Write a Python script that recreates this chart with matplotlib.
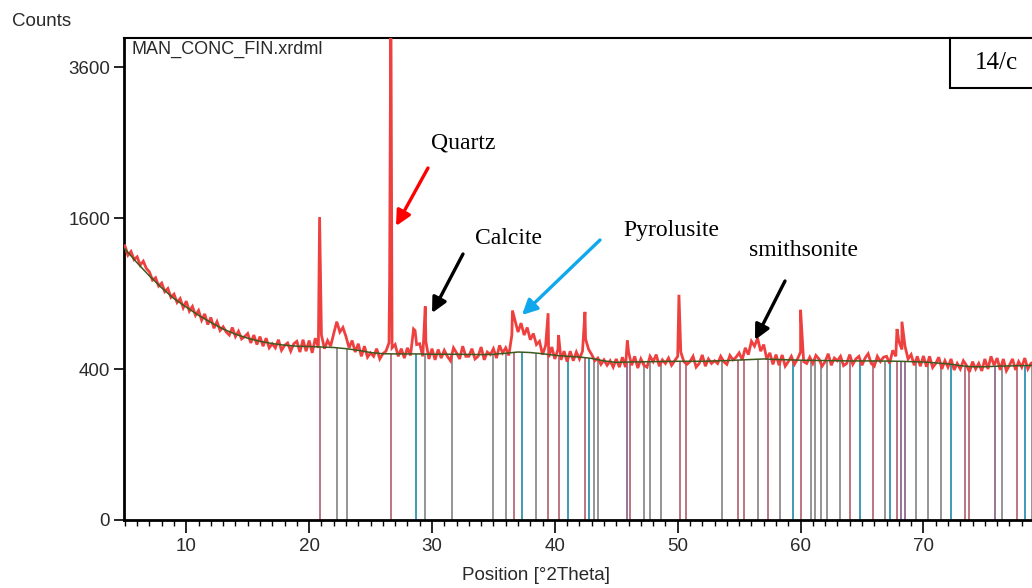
import numpy as np
import matplotlib
matplotlib.use("Agg")
import matplotlib.pyplot as plt
from matplotlib.patches import Rectangle

# ---------------- data ----------------
two_theta_start = 5.0
two_theta_step = 0.25
observed_counts = [
    1320, 1230, 1265, 1190, 1215, 1140, 1175, 1110,
    1080, 1010, 1030, 960, 985, 915, 940, 870,
    895, 830, 860, 790, 840, 765, 800, 735,
    770, 700, 745, 670, 720, 645, 690, 630,
    655, 620, 600, 650, 590, 625, 575, 590,
    610, 550, 600, 540, 590, 530, 580, 520,
    545, 520, 570, 505, 535, 550, 500, 545,
    560, 495, 570, 500, 565, 490, 580, 520,
    600, 515, 565, 530, 610, 690, 620, 650,
    590, 520, 565, 495, 545, 470, 530, 465,
    490, 470, 515, 455, 485, 500, 550, 520,
    540, 470, 515, 460, 520, 475, 640, 540,
    545, 470, 560, 455, 515, 450, 510, 460,
    505, 470, 445, 520, 490, 455, 530, 470,
    470, 515, 455, 470, 525, 450, 495, 480,
    515, 460, 535, 490, 520, 475, 600, 700,
    620, 680, 600, 650, 570, 610, 540, 560,
    480, 535, 465, 525, 455, 510, 450, 500,
    440, 500, 445, 495, 455, 500, 575, 510,
    480, 445, 460, 425, 450, 420, 445, 410,
    455, 410, 465, 410, 495, 420, 470, 405,
    455, 420, 410, 470, 440, 480, 415, 450,
    430, 460, 420, 445, 470, 495, 440, 425,
    440, 470, 410, 430, 478, 415, 455, 430,
    445, 430, 470, 440, 425, 475, 450, 465,
    490, 450, 520, 480, 560, 530, 580, 500,
    540, 455, 490, 425, 480, 420, 478, 415,
    440, 470, 425, 455, 495, 440, 430, 465,
    430, 475, 455, 415, 440, 485, 420, 460,
    445, 470, 418, 430, 480, 425, 455, 470,
    420, 460, 485, 430, 415, 470, 440, 465,
    470, 430, 505, 470, 560, 510, 530, 455,
    480, 420, 470, 415, 472, 412, 470, 408,
    430, 465, 400, 445, 410, 455, 395, 430,
    400, 445, 420, 385, 440, 400, 430, 390,
    455, 400, 470, 420, 460, 395, 455, 390,
    420, 455, 395, 440, 410, 460, 400, 430,
    440,
]

# sharp reflections of the observed scan
peak_positions = [20.85, 26.55, 26.65, 28.62, 29.45, 36.55, 39.45, 40.30,
                  42.45, 45.90, 50.10, 60.00, 67.85, 68.25]
peak_heights = [1610, 1010, 5000, 630, 800, 770, 750, 600,
                760, 565, 890, 775, 640, 690]

# fitted background
background_x = [5, 6, 7, 8, 9, 10, 11, 12, 13, 14, 15, 16, 17, 18, 19, 20, 21,
                22, 23, 24, 25, 26, 27, 28, 29, 30, 32, 34, 35, 36, 37, 38, 39,
                40, 41, 42, 43, 44, 45, 46, 48, 50, 52, 54, 56, 57, 58, 60, 62,
                64, 66, 68, 70, 72, 73, 74, 75, 76, 78, 79]
background_y = [1290, 1160, 1045, 945, 860, 795, 735, 685, 640, 606, 580, 560,
                546, 536, 530, 528, 525, 522, 515, 505, 492, 485, 484, 484,
                484, 482, 482, 480, 482, 488, 495, 492, 485, 476, 470, 466,
                458, 444, 436, 438, 440, 442, 442, 446, 452, 455, 452, 448,
                446, 444, 444, 442, 438, 428, 418, 412, 412, 415, 418, 420]

# reference pattern sticks (phase positions)
quartz_sticks = [20.85, 26.68, 36.68, 39.45, 40.35, 42.47, 46.08, 50.18, 50.67,
                 54.93, 55.37, 57.33, 60.05, 64.03, 65.89, 67.85, 73.37, 73.70,
                 77.60]
calcite_sticks = [22.24, 23.09, 29.47, 31.60, 35.00, 36.06, 38.45, 43.15, 43.48,
                  47.27, 47.76, 48.63, 53.58, 56.51, 58.33, 60.81, 61.19, 61.63,
                  62.17, 63.18, 66.90, 69.37, 70.38, 71.41, 76.37, 78.80]
pyrolusite_sticks = [28.66, 37.36, 41.03, 42.80, 59.37, 64.80, 67.25, 72.28, 78.28]
smithsonite_sticks = [45.86, 68.20, 68.47, 75.82]

x_major_ticks = [10, 20, 30, 40, 50, 60, 70]
y_ticks = [0, 400, 1600, 3600]

# ---------------- figure ----------------
W, H = 1032, 588
fig = plt.figure(figsize=(W / 100, H / 100), dpi=100)
fig.patch.set_facecolor("white")

def fx(px):
    return px / W

def fy(py):
    return 1 - py / H

ax = fig.add_axes([fx(124), fy(520), fx(1034) - fx(124), fy(38) - fy(520)])

fwd = lambda v: np.sqrt(np.maximum(v, 0))
inv = lambda v: np.square(v)
ax.set_yscale("function", functions=(fwd, inv))

# observed scan merged with sharp peaks
obs_x = two_theta_start + two_theta_step * np.arange(len(observed_counts))
all_x = np.concatenate([obs_x, peak_positions])
all_y = np.concatenate([observed_counts, peak_heights])
order = np.argsort(all_x, kind="stable")
all_x, all_y = all_x[order], all_y[order]

# sticks from 0 up to background level
bgx = np.array(background_x, float)
bgy = np.array(background_y, float)
stick_groups = [
    (calcite_sticks, "#8c8c8c"),
    (quartz_sticks, "#b86a78"),
    (smithsonite_sticks, "#8e6a8e"),
    (pyrolusite_sticks, "#2e94b0"),
]
for pos, col in stick_groups:
    pos = np.array(pos)
    ax.vlines(pos, 0, np.interp(pos, bgx, bgy), colors=col, lw=1.3, zorder=2)

ax.plot(all_x, all_y, color="#ef4040", lw=2.0, zorder=3, solid_joinstyle="miter")
ax.plot(background_x, background_y, color="#3d5a1e", lw=1.1, zorder=4)

ax.set_xlim(4.93, 79.0)
ax.set_ylim(0, 4076)

ax.set_xticks(x_major_ticks)
ax.set_xticks(np.arange(5, 80, 1), minor=True)
ax.set_yticks(y_ticks)
ax.set_yticklabels([str(v) for v in y_ticks])
ax.yaxis.set_minor_locator(matplotlib.ticker.NullLocator())

sans = ["Liberation Sans", "DejaVu Sans"]
for lab in ax.get_xticklabels() + ax.get_yticklabels():
    lab.set_fontfamily(sans)
    lab.set_fontsize(13.5)
    lab.set_color("#2a2a2a")

ax.tick_params(axis="x", which="major", direction="out", length=9, width=1.2, pad=4)
ax.tick_params(axis="x", which="minor", direction="out", length=4, width=1.0)
ax.tick_params(axis="y", which="major", direction="out", length=7, width=1.2, pad=3)

for s in ["left", "bottom"]:
    ax.spines[s].set_linewidth(2.0)
ax.spines["top"].set_linewidth(1.5)
ax.spines["right"].set_visible(False)

ax.text(0.008, 0.995, "MAN_CONC_FIN.xrdml", transform=ax.transAxes,
        ha="left", va="top", fontsize=13, color="#2a2a2a", family=sans)

fig.text(fx(12), fy(22), "Counts", ha="left", va="center", fontsize=13.5,
         color="#2a2a2a", family=sans)
fig.text(fx(536), fy(575), "Position [°2Theta]", ha="center", va="center",
         fontsize=13.5, color="#2a2a2a", family=sans)

# label box
fig.patches.append(Rectangle((fx(950), fy(88)), fx(1040) - fx(950), fy(38) - fy(88),
                             transform=fig.transFigure, fill=True, facecolor="white",
                             edgecolor="black", lw=1.5, zorder=10))
fig.text(fx(996), fy(63), "14/c", ha="center", va="center", fontsize=18,
         family=["Liberation Serif", "DejaVu Serif"], zorder=11)

serif = ["Liberation Serif", "DejaVu Serif"]
labels = [
    ("Quartz", (463, 143), (428, 168), (396, 226), "red"),
    ("Calcite", (508, 238), (463, 254), (432, 313), "black"),
    ("Pyrolusite", (671, 231), (600, 240), (522, 315), "#10a8ec"),
    ("smithsonite", (804, 251), (785, 281), (755, 340), "black"),
]
for txt, tpos, tail, tip, col in labels:
    fig.text(fx(tpos[0]), fy(tpos[1]), txt, ha="center", va="center",
             fontsize=17, family=serif, color="black")
    ax.annotate("", xy=(fx(tip[0]), fy(tip[1])), xycoords="figure fraction",
                xytext=(fx(tail[0]), fy(tail[1])), textcoords="figure fraction",
                arrowprops=dict(arrowstyle="-|>,head_length=0.9,head_width=0.45",
                                color=col, lw=2.4, shrinkA=0, shrinkB=0),
                annotation_clip=False)

fig.savefig("out.png", dpi=100)
